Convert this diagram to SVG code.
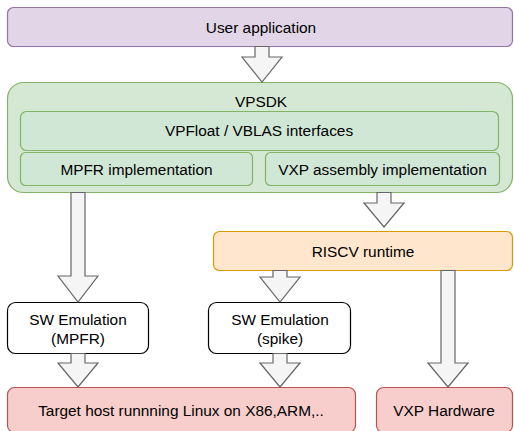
<svg xmlns="http://www.w3.org/2000/svg" width="514" height="431" viewBox="0 0 514 431">
<style>
text{font-family:"Liberation Sans",Arial,Helvetica,sans-serif;font-size:15.4px;fill:#000;text-anchor:middle;dominant-baseline:central}
.purple{fill:#e1d5e7;stroke:#9673a6;stroke-width:1.2}
.green{fill:#d5e8d4;stroke:#82b366;stroke-width:1.2}
.green2{fill:#d0e7d6;stroke:#82b366;stroke-width:1.2}
.orange{fill:#ffe6cc;stroke:#d79b00;stroke-width:1.2}
.red{fill:#f8cecc;stroke:#b85450;stroke-width:1.2}
.white{fill:#ffffff;stroke:#000000;stroke-width:1.2}
.arrow{fill:#f5f5f5;stroke:#666666;stroke-width:1.2;stroke-linejoin:miter}
</style>
<rect width="514" height="431" fill="#ffffff"/>
<g id="user-app">
<rect class="purple" x="7.5" y="7.5" width="505" height="39" rx="6"/>
<text x="261" y="27">User application</text>
</g>
<g id="vpsdk">
<rect class="green" x="7.5" y="82.5" width="505" height="110" rx="16"/>
<text x="261" y="101">VPSDK</text>
</g>
<g id="vpfloat">
<rect class="green2" x="20.5" y="111.5" width="478" height="39" rx="6"/>
<text x="259" y="130">VPFloat / VBLAS interfaces</text>
</g>
<g id="mpfr-impl">
<rect class="green2" x="20.5" y="152.5" width="232" height="33" rx="5"/>
<text x="136.5" y="169">MPFR implementation</text>
</g>
<g id="vxp-asm">
<rect class="green2" x="265.5" y="152.5" width="234" height="33" rx="5"/>
<text x="382.5" y="169">VXP assembly implementation</text>
</g>
<g id="riscv">
<rect class="orange" x="213.5" y="231.5" width="299" height="39" rx="6"/>
<text x="363" y="251">RISCV runtime</text>
</g>
<g id="sw-mpfr">
<rect class="white" x="7.5" y="302.5" width="141" height="51" rx="8"/>
<text x="78" y="319">SW Emulation</text>
<text x="78" y="338">(MPFR)</text>
</g>
<g id="sw-spike">
<rect class="white" x="208.5" y="302.5" width="142" height="51" rx="8"/>
<text x="280" y="319">SW Emulation</text>
<text x="280" y="338">(spike)</text>
</g>
<g id="target-host">
<rect class="red" x="7.5" y="387.5" width="348" height="45" rx="7"/>
<text x="181" y="410">Target host runnning Linux on X86,ARM,..</text>
</g>
<g id="vxp-hw">
<rect class="red" x="376.5" y="387.5" width="136" height="45" rx="7"/>
<text x="444" y="410">VXP Hardware</text>
</g>
<g id="connectors">
<polygon class="arrow" points="255,46.5 269,46.5 269,57 282,57 262,82 242,57 255,57"/>
<polygon class="arrow" points="377,192.5 391,192.5 391,203 404,203 384,227 364,203 377,203"/>
<polygon class="arrow" points="71,192.5 85,192.5 85,276 98,276 78,302 58,276 71,276"/>
<polygon class="arrow" points="273,270.5 287,270.5 287,277 300,277 280,302 260,277 273,277"/>
<polygon class="arrow" points="441,270.5 455,270.5 455,363 468,363 448,387 428,363 441,363"/>
<polygon class="arrow" points="71,353.5 85,353.5 85,363 98,363 78,387 58,363 71,363"/>
<polygon class="arrow" points="273,353.5 287,353.5 287,363 300,363 280,387 260,363 273,363"/>
</g>
</svg>
